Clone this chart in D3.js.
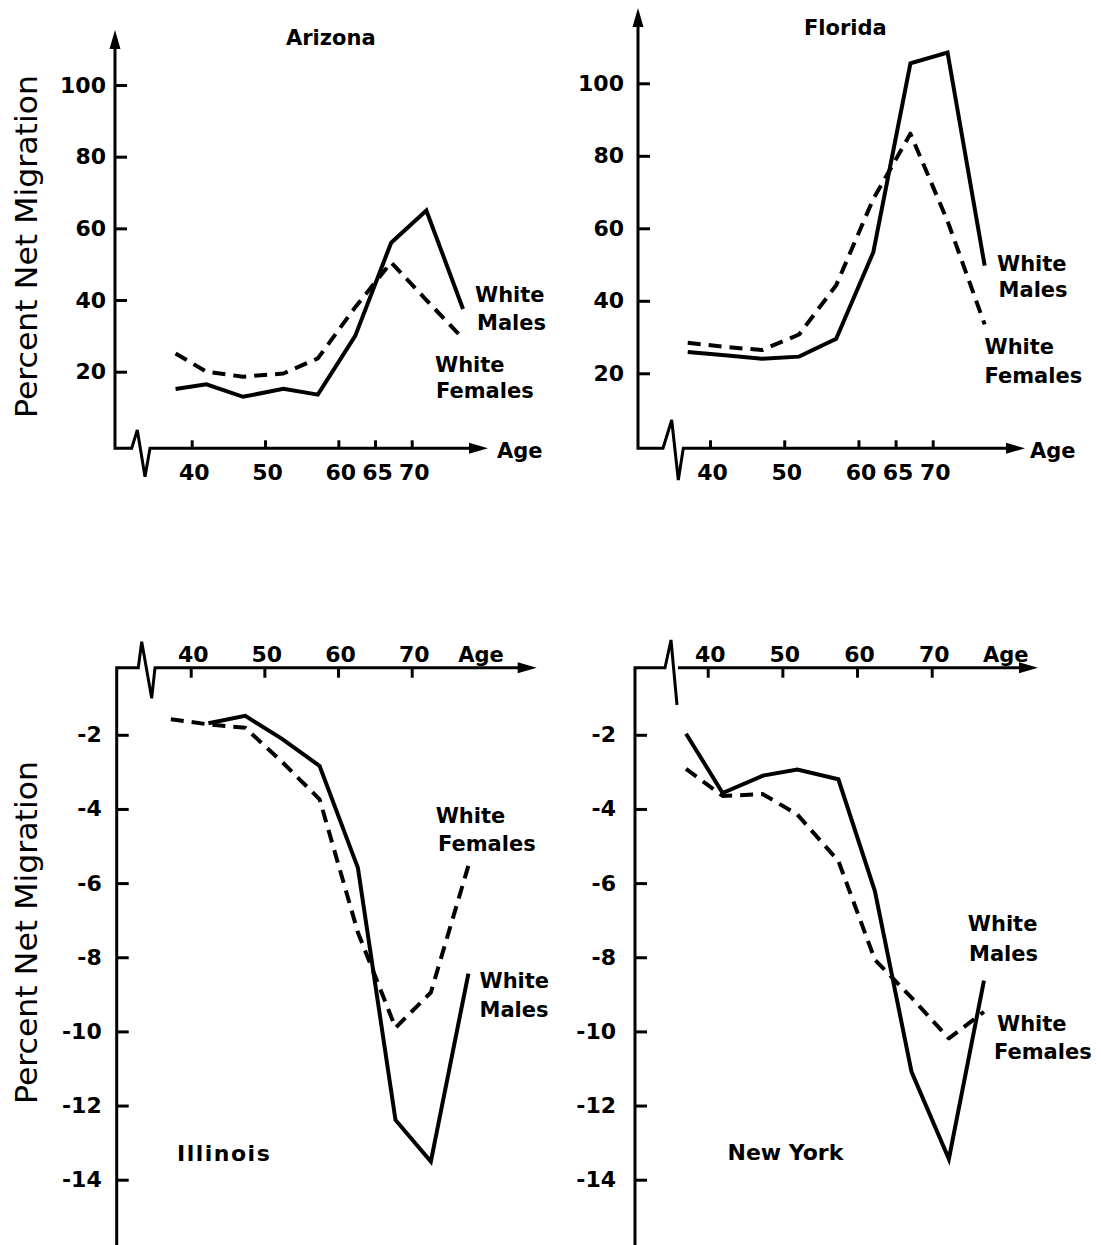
<!DOCTYPE html>
<html><head><meta charset="utf-8">
<script src="https://cdn.jsdelivr.net/npm/d3@7"></script>
<style>
body{margin:0;background:#fff}
svg{display:block;background:#fff}
text{font-family:"DejaVu Sans",sans-serif;fill:#000}
</style></head><body>
<svg id="chart" width="1101" height="1245"></svg>
<script>
// ---------- data ----------
// age (x) of each plotted point, read per panel
const arizonaAges  = [37.8, 42, 47, 52.5, 57.2, 62.3, 67.2, 72, 77];
const floridaAges  = [37, 42, 47, 52, 57, 62, 67, 72, 77];
const illinoisAges = [37.3, 42.4, 47.4, 52.4, 57.5, 62.7, 67.8, 72.6, 77.7];
const newYorkAges  = [37.1, 42, 47.4, 52, 57.5, 62.4, 67.3, 72.3, 77];

const arizonaMales    = [15.2, 16.5, 13.0, 15.2, 13.6, 30.0, 56.0, 65.0, 37.5];
const arizonaFemales  = [25.1, 20.0, 18.6, 19.5, 23.7, 38.0, 50.5, 40.0, 29.2];
const floridaMales    = [25.9, 25.0, 24.0, 24.6, 29.5, 53.4, 105.5, 108.5, 49.7];
const floridaFemales  = [28.4, 27.3, 26.4, 30.7, 44.3, 68.1, 86.1, 62.0, 33.5];
const illinoisMales   = [null, -1.69, -1.49, -2.11, -2.84, -5.59, -12.39, -13.51, -8.44];
const illinoisFemales = [-1.58, -1.72, -1.81, -2.73, -3.74, -7.33, -9.9, -8.95, -5.53];
const newYorkMales    = [-1.97, -3.57, -3.1, -2.94, -3.2, -6.22, -11.09, -13.44, -8.63];
const newYorkFemales  = [-2.92, -3.65, -3.6, -4.15, -5.4, -8.07, -9.09, -10.19, -9.47];

const upperAgeTicks = [40, 50, 60, 65, 70];
const lowerAgeTicks = [40, 50, 60, 70];
const upperPctTicks = [20, 40, 60, 80, 100];
const lowerPctTicks = [-2, -4, -6, -8, -10, -12, -14];
const stateNames = ["Arizona", "Florida", "Illinois", "New York"];
const seriesWord1 = "White";
const maleWord = "Males";
const femaleWord = "Females";
const yTitle = "Percent Net Migration";
const xTitle = "Age";

// ---------- layout ----------
const panels = [
  { name: stateNames[0], ages: arizonaAges, males: arizonaMales, females: arizonaFemales,
    xTicks: upperAgeTicks, yTicks: upperPctTicks, upper: true,
    xr: [191.7, 411.7], yd: [20, 100], yr: [371.7, 85],
    axisX: 115, axisY: 448.3, yGap: 9,
    axisPath: "M115,46 V448.3 H131.7 L137.3,430 L145,476.7 L150,448.3 H472",
    arrowUp: [115, 30], arrowRight: [488, 448.3],
    title: [286, 45], ageLab: [497, 458.3],
    maleLab: [[475, 302], [477, 330.4]], femaleLab: [[435, 371.6], [436, 398.3]] },
  { name: stateNames[1], ages: floridaAges, males: floridaMales, females: floridaFemales,
    xTicks: upperAgeTicks, yTicks: upperPctTicks, upper: true,
    xr: [710, 932.7], yd: [20, 100], yr: [373.3, 83.3],
    axisX: 638, axisY: 448.3, yGap: 14,
    axisPath: "M638,24 V448.3 H663 L671.7,420 L678.3,480 L683.3,448.3 H1009",
    arrowUp: [638, 8], arrowRight: [1025, 448.3],
    title: [804, 35], ageLab: [1030, 458.3],
    maleLab: [[997, 270.6], [998.6, 297.4]], femaleLab: [[984.5, 354.3], [984.5, 382.7]] },
  { name: stateNames[2], ages: illinoisAges, males: illinoisMales, females: illinoisFemales,
    xTicks: lowerAgeTicks, yTicks: lowerPctTicks, upper: false,
    xr: [190.7, 411.7], yd: [-2, -14], yr: [734.8, 1179.7],
    axisX: 116.7, axisY: 667.7, yGap: 15,
    axisPath: "M116.7,1245 V667.7 H138.3 L141.7,641.7 L151.7,698.3 L155,667.7 H520",
    arrowRight: [536.7, 667.7],
    title: [177, 1161], ageLab: [458.3, 661.7],
    maleLab: [[479.5, 987.8], [479.5, 1016.8]], femaleLab: [[435.7, 823.4], [438, 851]] },
  { name: stateNames[3], ages: newYorkAges, males: newYorkMales, females: newYorkFemales,
    xTicks: lowerAgeTicks, yTicks: lowerPctTicks, upper: false,
    xr: [707.7, 931.7], yd: [-2, -14], yr: [734.8, 1179.7],
    axisX: 635, axisY: 667.7, yGap: 19,
    axisPath: "M635,1245 V667.7 H665 L671,640 L677,705 M678,667.7 H1021",
    arrowRight: [1038, 667.7],
    title: [727.5, 1160], ageLab: [983, 661.7],
    maleLab: [[967.8, 930.6], [969, 961]], femaleLab: [[997, 1030.7], [994, 1059.3]] }
];

const svg = d3.select("#chart");
const fmt = d => d < 0 ? "-" + Math.abs(d) : String(d);

panels.forEach(p => {
  const g = svg.append("g");
  const x = d3.scaleLinear().domain([40, 70]).range(p.xr);
  const y = d3.scaleLinear().domain(p.yd).range(p.yr);

  // axis lines with break
  g.append("path").attr("d", p.axisPath)
    .attr("fill", "none").attr("stroke", "#000").attr("stroke-width", 3)
    .attr("stroke-linejoin", "miter");
  if (p.arrowUp) {
    const [ax, ay] = p.arrowUp;
    g.append("path").attr("d", `M${ax},${ay} L${ax - 5.5},${ay + 19} L${ax + 5.5},${ay + 19} Z`).attr("fill", "#000");
  }
  const [rx, ry] = p.arrowRight;
  g.append("path").attr("d", `M${rx},${ry} L${rx - 19},${ry - 5.5} L${rx - 19},${ry + 5.5} Z`).attr("fill", "#000");

  // y axis ticks
  const ya = d3.axisLeft(y).tickValues(p.yTicks).tickSizeInner(-12).tickSizeOuter(0)
    .tickPadding(p.yGap).tickFormat(fmt);
  const yg = g.append("g").attr("transform", `translate(${p.axisX},0)`).call(ya);
  yg.select(".domain").remove();
  yg.selectAll(".tick line").attr("stroke", "#000").attr("stroke-width", 3);
  yg.selectAll(".tick text").attr("font-family", "DejaVu Sans").attr("font-size", 22)
    .attr("font-weight", "bold").attr("fill", "#000");

  // x axis ticks
  const xa = (p.upper ? d3.axisBottom(x).tickSizeInner(-8).tickPadding(16)
                      : d3.axisTop(x).tickSizeInner(-10).tickPadding(6))
    .tickValues(p.xTicks).tickSizeOuter(0).tickFormat(d => String(d));
  const xg = g.append("g").attr("transform", `translate(0,${p.axisY})`).call(xa);
  xg.select(".domain").remove();
  xg.selectAll(".tick line").attr("stroke", "#000").attr("stroke-width", 3);
  xg.selectAll(".tick text").attr("font-family", "DejaVu Sans").attr("font-size", 22)
    .attr("font-weight", "bold").attr("fill", "#000").attr("dx", 2);

  g.append("text").attr("x", p.ageLab[0]).attr("y", p.ageLab[1])
    .attr("font-size", 21).attr("font-weight", "bold").text(xTitle);

  // data lines
  const line = d3.line().defined(d => d[1] !== null)
    .x(d => x(d[0])).y(d => y(d[1]));
  g.append("path").datum(p.ages.map((a, i) => [a, p.males[i]]))
    .attr("d", line).attr("fill", "none").attr("stroke", "#000")
    .attr("stroke-width", 4).attr("stroke-linejoin", "miter");
  g.append("path").datum(p.ages.map((a, i) => [a, p.females[i]]))
    .attr("d", line).attr("fill", "none").attr("stroke", "#000")
    .attr("stroke-width", 4).attr("stroke-dasharray", "13,8").attr("stroke-linejoin", "round");

  // series labels
  [[p.maleLab, maleWord], [p.femaleLab, femaleWord]].forEach(([pos, w]) => {
    g.append("text").attr("x", pos[0][0]).attr("y", pos[0][1])
      .attr("font-size", 21).attr("font-weight", "bold").text(seriesWord1);
    g.append("text").attr("x", pos[1][0]).attr("y", pos[1][1])
      .attr("font-size", 21).attr("font-weight", "bold").text(w);
  });

  // state title
  g.append("text").attr("x", p.title[0]).attr("y", p.title[1])
    .attr("font-size", p.upper ? 21 : 22).attr("font-weight", "bold")
    .attr("letter-spacing", p.name === "Illinois" ? 1.5 : 0).text(p.name);
});

// y-axis titles
[246.5, 932.5].forEach(cy => {
  svg.append("text").attr("transform", `translate(37,${cy}) rotate(-90)`)
    .attr("text-anchor", "middle").attr("font-size", 30)
    .attr("textLength", 343).attr("lengthAdjust", "spacingAndGlyphs")
    .text(yTitle);
});
</script>
</body></html>
